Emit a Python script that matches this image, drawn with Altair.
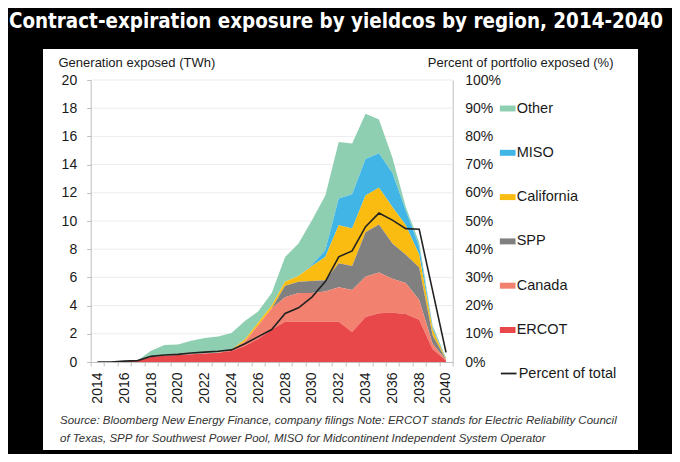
import pandas as pd
import altair as alt

# ---- data ----
years = list(range(2014, 2041))

regions = ["Other", "MISO", "California", "SPP", "Canada", "ERCOT"]
region_colors = ["#8fcfb1", "#41b6e6", "#fbbc12", "#808080", "#f2826f", "#e84849"]

# generation exposed (TWh), one layer of the stack per region
ercot = [0, 0, 0.05, 0.1, 0.35, 0.45, 0.5, 0.55, 0.6, 0.65, 0.78, 1.13, 1.65, 2.3,
         2.85, 2.85, 2.85, 2.85, 2.85, 2.13, 3.2, 3.45, 3.5, 3.4, 3.0, 0.9, 0.1]
canada = [0, 0, 0, 0, 0, 0, 0, 0, 0, 0, 0.07, 0.32, 0.95, 1.5,
          1.75, 2.05, 2.05, 2.15, 2.45, 2.97, 2.85, 2.9, 2.4, 2.2, 1.4, 0.4, 0.05]
spp = [0, 0, 0, 0, 0, 0, 0, 0, 0, 0, 0, 0, 0, 0,
       0.8, 0.8, 0.85, 0.8, 1.7, 1.7, 3.15, 3.4, 2.5, 2.0, 2.3, 0.6, 0.03]
california = [0, 0, 0, 0, 0, 0, 0, 0, 0, 0, 0.03, 0.15, 0.2, 0.2,
              0.3, 0.4, 1.05, 1.65, 2.7, 2.67, 2.6, 2.6, 2.6, 2.1, 0.9, 0.4, 0.04]
miso = [0, 0, 0, 0, 0, 0, 0, 0, 0, 0, 0, 0, 0, 0,
        0, 0, 0.1, 0.48, 1.9, 2.43, 2.6, 2.45, 2.4, 1.05, 0.6, 0.15, 0.04]
other = [0, 0, 0, 0, 0.45, 0.75, 0.75, 0.95, 1.1, 1.15, 1.17, 1.3, 0.8, 0.9,
         1.75, 2.3, 3.15, 3.87, 4.0, 3.6, 3.2, 2.4, 1.1, 0.25, 0.3, 0.15, 0.02]

# percent of portfolio exposed (%)
pct_total = [0, 0, 0.3, 0.5, 2.0, 2.5, 2.7, 3.2, 3.5, 3.8, 4.3, 6.5, 9.0, 11.5,
             17.2, 19.2, 23.0, 28.5, 37.3, 39.4, 48.0, 52.8, 50.3, 47.3, 47.1, 25.3, 3.4]

twh_ticks = [0, 2, 4, 6, 8, 10, 12, 14, 16, 18, 20]
pct_ticks = [0, 10, 20, 30, 40, 50, 60, 70, 80, 90, 100]
year_labels = [2014, 2016, 2018, 2020, 2022, 2024, 2026, 2028, 2030, 2032, 2034, 2036, 2038, 2040]
year_edges = [y - 0.5 for y in years] + [2040.5]

title_text = "Contract-expiration exposure by yieldcos by region, 2014-2040"
source_text = ("Source: Bloomberg New Energy Finance, company filings Note: ERCOT stands for Electric Reliability Council\n"
               "of Texas, SPP for Southwest Power Pool, MISO for Midcontinent Independent System Operator")

series = {"Other": other, "MISO": miso, "California": california,
          "SPP": spp, "Canada": canada, "ERCOT": ercot}
rows = []
for name, vals in series.items():
    for yr, v in zip(years, vals):
        rows.append({"year": yr, "region": name, "twh": v,
                     "rank": len(regions) - 1 - regions.index(name)})
df = pd.DataFrame(rows)
pct_df = pd.DataFrame({"year": years, "pct": pct_total, "s": "Percent of total"})

# ---- chart ----
font = "Liberation Sans"
ink = "#1a1a1a"
axis_gray = "#bfbfbf"
W, H = 362, 282

x_scale = alt.Scale(domain=[2013.5, 2040.5], nice=False, zero=False)
y_scale = alt.Scale(domain=[0, 20], nice=False)

panel = alt.Chart(pd.DataFrame({"p": [0]})).mark_rect(color="white").encode(
    x=alt.value(-47.7), x2=alt.value(547.3), y=alt.value(-31), y2=alt.value(370)
)

grid = alt.Chart(pd.DataFrame({"g": twh_ticks[1:]})).mark_rule(color="#ececec").encode(
    y=alt.Y("g:Q", scale=y_scale, axis=None),
    x=alt.value(0), x2=alt.value(W)
)

areas = alt.Chart(df).mark_area(opacity=1, interpolate="linear").encode(
    x=alt.X("year:Q", scale=x_scale,
            axis=alt.Axis(orient="bottom", values=year_labels, format="d", labelAngle=270,
                          ticks=False, grid=False, domainColor=axis_gray, labelPadding=10,
                          labelFont=font, labelFontSize=14, labelColor=ink, labelFlush=False,
                          labelOverlap=False, title=None, zindex=1)),
    y=alt.Y("twh:Q", stack="zero", scale=y_scale,
            axis=alt.Axis(orient="left", values=twh_ticks, grid=False, domainColor=axis_gray,
                          tickColor=axis_gray, tickSize=4, labelPadding=10, labelFont=font,
                          labelFontSize=14, labelColor=ink, title="Generation exposed (TWh)",
                          titleAngle=0, titleAlign="left", titleBaseline="alphabetic",
                          titleX=-32.7, titleY=-14, titleFont=font, titleFontSize=13,
                          titleFontWeight="normal", titleColor=ink, zindex=1)),
    color=alt.Color("region:N", scale=alt.Scale(domain=regions, range=region_colors),
                    legend=alt.Legend(orient="none", legendX=409, legendY=20.5, title=None,
                                      symbolType="M-1,-0.38H1V0.38H-1Z", symbolSize=246,
                                      symbolStrokeWidth=0, labelFont=font, labelFontSize=14.5,
                                      labelColor=ink, labelOffset=1, rowPadding=29.3, padding=0)),
    order=alt.Order("rank:Q")
)

line = alt.Chart(pct_df).mark_line(strokeWidth=1.6).encode(
    x=alt.X("year:Q", scale=x_scale,
            axis=alt.Axis(orient="bottom", values=year_edges, labels=False, domain=False,
                          tickSize=4, tickColor=axis_gray, grid=False, title=None, zindex=1)),
    y=alt.Y("pct:Q", scale=alt.Scale(domain=[0, 100], nice=False),
            axis=alt.Axis(orient="right", values=pct_ticks, labelExpr="datum.value + '%'",
                          ticks=False, grid=False, domainColor=axis_gray, labelPadding=12,
                          labelFont=font, labelFontSize=14, labelColor=ink,
                          title="Percent of portfolio exposed (%)", titleAngle=0,
                          titleAlign="right", titleBaseline="alphabetic", titleX=160.3,
                          titleY=-14, titleFont=font, titleFontSize=13,
                          titleFontWeight="normal", titleColor=ink, zindex=1)),
    stroke=alt.Stroke("s:N", scale=alt.Scale(domain=["Percent of total"], range=["#222222"]),
                      legend=alt.Legend(orient="none", legendX=409, legendY=284.5, title=None,
                                        symbolType="stroke", symbolSize=246,
                                        symbolStrokeWidth=1.8, labelFont=font,
                                        labelFontSize=14.5, labelColor=ink, labelOffset=1,
                                        padding=0))
)

title = alt.Chart(pd.DataFrame({"t": [title_text]})).mark_text(
    font="DejaVu Sans Condensed", fontWeight="bold", fontSize=20.4, color="white",
    align="center", baseline="alphabetic"
).encode(text="t:N", x=alt.value(245.3), y=alt.value(-52))

source = alt.Chart(pd.DataFrame({"t": [source_text]})).mark_text(
    font=font, fontStyle="italic", fontSize=11.5, color="#333333", align="left",
    baseline="alphabetic", lineBreak="\n", lineHeight=18
).encode(text="t:N", x=alt.value(-30.7), y=alt.value(344))

chart = alt.layer(panel, grid, areas, line, title, source).resolve_scale(
    y="independent"
).resolve_axis(
    x="independent", y="independent"
).properties(
    width=W, height=H, background="black",
    autosize=alt.AutoSizeParams(type="none"),
    padding={"left": 82.7, "top": 72, "right": 219.3, "bottom": 92}
).configure_view(stroke=None)

chart.save("out.html", embed_options={"renderer": "svg", "actions": False})
